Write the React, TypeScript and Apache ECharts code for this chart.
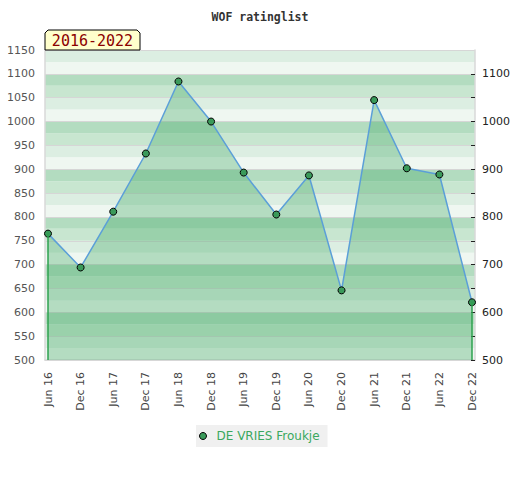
import React, { useEffect, useRef } from "react";
import * as echarts from "echarts";

const categories = ["Jun 16", "Dec 16", "Jun 17", "Dec 17", "Jun 18", "Dec 18", "Jun 19", "Dec 19", "Jun 20", "Dec 20", "Jun 21", "Dec 21", "Jun 22", "Dec 22"];
const ratings = [765, 694, 811, 933, 1084, 1000, 893, 805, 887, 646, 1045, 902, 889, 621];
const seriesName = "DE VRIES Froukje";
const titleText = "WOF ratinglist";
const periodText = "2016-2022";
const yMin = 500;
const yMax = 1150;
const rightTickValues = [500, 550, 600, 650, 700, 750, 800, 850, 900, 950, 1000, 1050, 1100];
const rightLabelValues = [500, 600, 700, 800, 900, 1000, 1100];

export default function App() {
  const ref = useRef<HTMLDivElement>(null);
  useEffect(() => {
    if (!ref.current) return;
    document.body.style.margin = "0";
    const chart = echarts.init(ref.current, null, { renderer: "svg" });
    const last = categories.length - 1;
    const font = "DejaVu Sans";
    chart.setOption({
      animation: false,
      backgroundColor: "#ffffff",
      title: {
        text: titleText,
        left: "center",
        top: 6,
        textStyle: { fontFamily: "DejaVu Sans Mono", fontWeight: "bold", fontSize: 11.5, color: "#333" },
      },
      legend: {
        data: [{ name: seriesName, icon: "circle", itemStyle: { color: "#3a9a5a", borderColor: "#000", borderWidth: 1 } }],
        left: 196,
        top: 425,
        backgroundColor: "#f0f0f0",
        padding: [5, 8, 5, 3],
        itemWidth: 17,
        itemHeight: 7,
        textStyle: { color: "#3aa85e", fontSize: 12, fontFamily: font },
      },
      grid: [
        { left: 45, right: 45, top: 50, bottom: 120 },
        { left: 48, right: 48, top: 50, bottom: 120 },
      ],
      xAxis: [
        {
          type: "value",
          gridIndex: 0,
          min: 0,
          max: 1,
          axisLine: { show: true, lineStyle: { color: "#d8d8d8", width: 1.5 } },
          axisTick: { show: false },
          axisLabel: { show: false },
          splitLine: { show: false },
        },
        {
          type: "category",
          gridIndex: 1,
          data: categories,
          boundaryGap: false,
          axisLine: { show: false },
          axisTick: { show: false },
          axisLabel: { rotate: 90, color: "#444", fontSize: 11, fontFamily: font, margin: 12, interval: 0 },
        },
      ],
      yAxis: [
        {
          type: "value",
          gridIndex: 0,
          min: yMin,
          max: yMax,
          interval: 25,
          position: "left",
          axisLine: { show: true, lineStyle: { color: "#d8d8d8", width: 1.5 } },
          axisTick: { show: false },
          axisLabel: {
            color: "#555",
            fontSize: 11,
            fontFamily: font,
            margin: 10,
            formatter: (v: number) => (v % 50 === 0 ? String(v) : ""),
          },
          splitLine: { show: true, lineStyle: { color: ["#d6d6d6", "rgba(0,0,0,0)"], width: 1 } },
          splitArea: { show: true, areaStyle: { color: ["#eff7f1", "#dceee2", "#c8e6d0", "#b3dcc0"] } },
        },
        {
          type: "value",
          gridIndex: 0,
          min: yMin,
          max: yMax,
          interval: 50,
          position: "right",
          axisLine: { show: true, lineStyle: { color: "#d8d8d8", width: 1.5 } },
          axisTick: { show: true, inside: true, length: 4, lineStyle: { color: "#222" }, customValues: rightTickValues },
          axisLabel: {
            color: "#222",
            fontSize: 11,
            fontFamily: font,
            margin: 7,
            customValues: rightLabelValues,
            formatter: (v: number) => String(v),
          },
          splitLine: { show: false },
        },
        {
          type: "value",
          gridIndex: 1,
          min: yMin,
          max: yMax,
          show: false,
        },
      ],
      series: [
        {
          name: seriesName,
          type: "line",
          xAxisIndex: 1,
          yAxisIndex: 2,
          data: ratings,
          clip: false,
          symbol: "circle",
          symbolSize: 7,
          itemStyle: { color: "#3a9a5a", borderColor: "#000", borderWidth: 1 },
          lineStyle: { color: "#5b9fd8", width: 1.5 },
          areaStyle: { color: "rgba(60,166,96,0.47)" },
          markLine: {
            silent: true,
            symbol: "none",
            label: { show: false },
            lineStyle: { color: "#2ea24f", width: 1.5, type: "solid" },
            data: [
              [{ coord: [categories[0], ratings[0]] }, { coord: [categories[0], yMin] }],
              [{ coord: [categories[last], ratings[last]] }, { coord: [categories[last], yMin] }],
            ],
          },
          z: 3,
        },
      ],
      graphic: [
        {
          type: "polygon",
          shape: { points: [[45, 50], [45, 33], [48, 30], [137, 30], [140, 33], [140, 50]] },
          style: { fill: "#ffffcc", stroke: "#000", lineWidth: 1 },
          z: 10,
        },
        {
          type: "text",
          x: 92.5,
          y: 40.5,
          style: {
            text: periodText,
            fill: "#8b0000",
            font: "15px 'DejaVu Sans Mono'",
            textAlign: "center",
            textVerticalAlign: "middle",
          },
          z: 11,
        },
      ],
    });
    return () => chart.dispose();
  }, []);
  return <div ref={ref} style={{ width: 520, height: 480 }} />;
}
